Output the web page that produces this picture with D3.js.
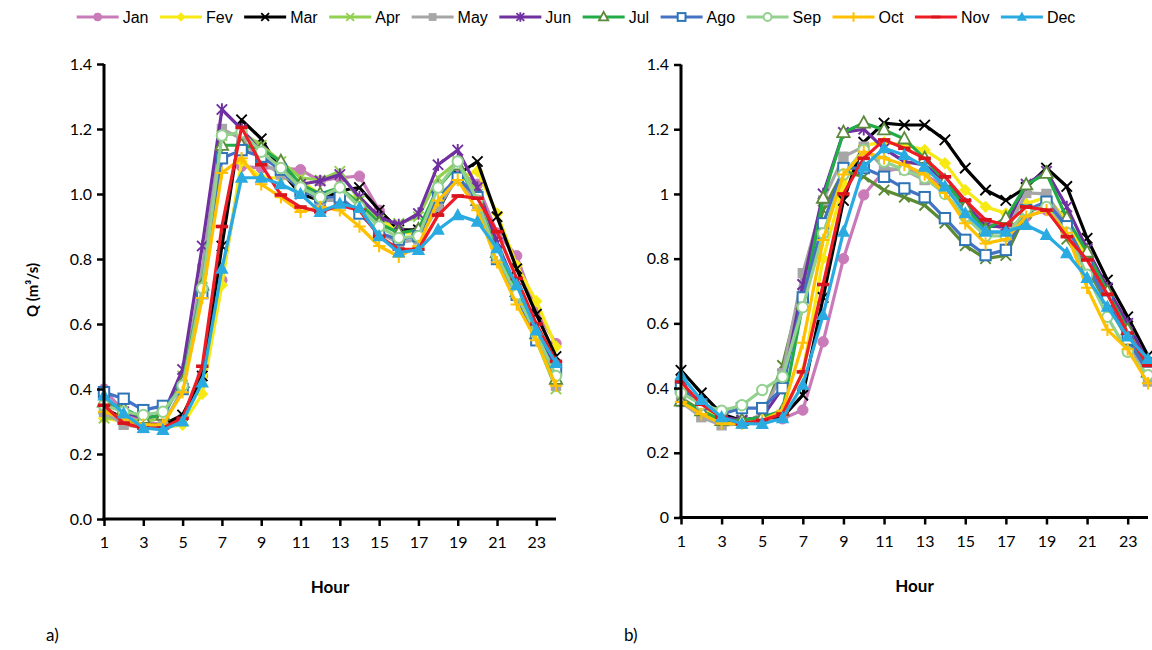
<!DOCTYPE html>
<html><head><meta charset="utf-8">
<script src="https://cdn.jsdelivr.net/npm/d3@7"></script>
<style>body{margin:0;background:#fff}</style></head>
<body><svg id="c" width="1152" height="650"></svg>
<script>
// ---------- DATA ----------
const months = ["Jan","Fev","Mar","Apr","May","Jun","Jul","Ago","Sep","Oct","Nov","Dec"];
const hours = [1,2,3,4,5,6,7,8,9,10,11,12,13,14,15,16,17,18,19,20,21,22,23,24];
const xTickHours = [1,3,5,7,9,11,13,15,17,19,21,23];
const yTicks = [0,0.2,0.4,0.6,0.8,1.0,1.2,1.4];

// chart a)
const aJan = [0.40,0.33,0.30,0.29,0.31,0.44,0.735,1.085,1.08,1.08,1.075,1.04,1.05,1.055,0.95,0.88,0.89,0.96,1.07,1.03,0.88,0.81,0.64,0.54];
const aFev = [0.31,0.30,0.29,0.28,0.29,0.385,0.72,1.10,1.05,1.05,1.04,1.00,1.01,0.98,0.93,0.88,0.88,0.97,1.05,1.07,0.94,0.78,0.67,0.53];
const aMar = [0.34,0.31,0.29,0.29,0.32,0.44,0.84,1.228,1.17,1.07,1.00,0.98,1.01,1.02,0.95,0.89,0.89,0.95,1.06,1.10,0.93,0.77,0.63,0.50];
const aApr = [0.31,0.31,0.30,0.31,0.44,0.74,1.18,1.19,1.15,1.10,1.05,1.043,1.07,0.98,0.92,0.91,0.93,1.05,1.10,1.00,0.82,0.69,0.55,0.40];
const aMay = [0.33,0.29,0.28,0.29,0.40,0.77,1.20,1.17,1.10,1.06,1.02,0.98,0.98,0.95,0.88,0.85,0.86,0.96,1.05,0.97,0.82,0.69,0.56,0.41];
const aJun = [0.37,0.33,0.31,0.32,0.46,0.84,1.26,1.20,1.13,1.08,1.03,1.04,1.06,0.99,0.93,0.905,0.94,1.09,1.135,1.02,0.85,0.71,0.59,0.46];
const aJul = [0.36,0.34,0.31,0.32,0.42,0.72,1.15,1.15,1.14,1.10,1.03,1.00,1.02,0.97,0.91,0.88,0.89,1.02,1.09,0.98,0.82,0.70,0.57,0.43];
const aAgo = [0.39,0.37,0.335,0.348,0.40,0.695,1.11,1.135,1.115,1.075,1.01,0.99,0.99,0.94,0.88,0.86,0.87,0.99,1.05,0.99,0.80,0.69,0.55,0.46];
const aSep = [0.35,0.33,0.32,0.33,0.41,0.71,1.18,1.19,1.13,1.08,1.02,0.99,1.02,0.96,0.90,0.865,0.87,1.02,1.10,0.98,0.81,0.69,0.57,0.44];
const aOct = [0.33,0.31,0.29,0.29,0.39,0.68,1.065,1.11,1.03,0.99,0.945,0.96,0.95,0.90,0.84,0.807,0.84,0.98,1.043,0.95,0.79,0.66,0.55,0.41];
const aNov = [0.35,0.295,0.28,0.28,0.31,0.47,0.90,1.205,1.09,0.997,0.96,0.945,0.965,0.95,0.87,0.83,0.83,0.935,0.994,0.987,0.884,0.74,0.60,0.485];
const aDec = [0.38,0.325,0.28,0.274,0.30,0.42,0.77,1.05,1.05,1.03,1.00,0.945,0.97,0.957,0.87,0.82,0.828,0.89,0.935,0.915,0.833,0.72,0.58,0.48];

// chart b)
const bJan = [0.40,0.36,0.31,0.30,0.30,0.305,0.332,0.543,0.80,0.997,1.07,1.08,1.06,1.02,0.97,0.91,0.89,0.93,0.95,0.90,0.80,0.69,0.58,0.46];
const bFev = [0.40,0.35,0.30,0.29,0.30,0.32,0.45,0.80,1.03,1.15,1.16,1.15,1.136,1.095,1.012,0.96,0.94,0.97,0.99,0.92,0.80,0.69,0.59,0.47];
const bMar = [0.455,0.385,0.32,0.30,0.31,0.31,0.378,0.68,0.98,1.16,1.219,1.213,1.213,1.167,1.08,1.012,0.98,1.02,1.08,1.023,0.863,0.734,0.62,0.50];
const bApr = [0.37,0.33,0.30,0.30,0.31,0.47,0.72,0.95,1.07,1.053,1.012,0.99,0.965,0.91,0.84,0.80,0.81,0.94,0.97,0.86,0.77,0.66,0.55,0.43];
const bMay = [0.357,0.31,0.285,0.29,0.32,0.446,0.755,0.98,1.115,1.146,1.08,1.074,1.043,1.02,0.95,0.88,0.88,1.003,1.00,0.90,0.78,0.67,0.55,0.42];
const bJun = [0.40,0.35,0.31,0.30,0.31,0.40,0.72,1.00,1.19,1.20,1.14,1.10,1.09,1.04,0.97,0.90,0.90,1.03,1.07,0.96,0.83,0.71,0.60,0.48];
const bJul = [0.36,0.33,0.30,0.30,0.31,0.33,0.66,0.987,1.19,1.219,1.198,1.17,1.11,1.04,0.96,0.89,0.925,1.028,1.064,0.925,0.82,0.698,0.58,0.45];
const bAgo = [0.40,0.35,0.32,0.338,0.338,0.40,0.68,0.909,1.08,1.08,1.053,1.017,0.99,0.925,0.858,0.811,0.827,0.95,0.976,0.90,0.78,0.67,0.55,0.45];
const bSep = [0.385,0.35,0.33,0.347,0.394,0.435,0.65,0.878,1.06,1.136,1.10,1.074,1.05,1.00,0.93,0.87,0.87,0.95,0.96,0.88,0.75,0.62,0.512,0.44];
const bOct = [0.357,0.32,0.29,0.29,0.30,0.33,0.54,0.858,1.06,1.13,1.11,1.09,1.06,1.003,0.909,0.847,0.86,0.93,0.95,0.88,0.71,0.58,0.52,0.415];
const bNov = [0.42,0.35,0.31,0.29,0.30,0.32,0.45,0.72,1.00,1.11,1.167,1.141,1.11,1.053,0.98,0.92,0.904,0.96,0.95,0.868,0.796,0.69,0.57,0.47];
const bDec = [0.44,0.363,0.31,0.29,0.289,0.307,0.41,0.626,0.883,1.084,1.141,1.12,1.084,1.023,0.94,0.883,0.883,0.904,0.873,0.817,0.74,0.651,0.559,0.49];

const seriesA = [aJan,aFev,aMar,aApr,aMay,aJun,aJul,aAgo,aSep,aOct,aNov,aDec];
const seriesB = [bJan,bFev,bMar,bApr,bMay,bJun,bJul,bAgo,bSep,bOct,bNov,bDec];

// ---------- STYLES ----------
const style = {
  Jan:{line:"#c97bb9", mk:"circle",   stroke:"#c97bb9", fill:"#c97bb9"},
  Fev:{line:"#f7ea14", mk:"diamond",  stroke:"#f7ea14", fill:"#f7ea14"},
  Mar:{line:"#000000", mk:"x",        stroke:"#000000", fill:"none"},
  Apr:{line:"#92d050", mk:"x",        stroke:"#92d050", fill:"none"},
  May:{line:"#a6a6a6", mk:"square",   stroke:"#a6a6a6", fill:"#a6a6a6"},
  Jun:{line:"#7030a0", mk:"asterisk", stroke:"#7030a0", fill:"none"},
  Jul:{line:"#22ac48", mk:"triangleOpen", stroke:"#5b8a3a", fill:"#ffffff"},
  Ago:{line:"#4472c4", mk:"squareOpen",   stroke:"#2e75b6", fill:"#ffffff"},
  Sep:{line:"#93d18e", mk:"circleOpen",   stroke:"#93d18e", fill:"#ffffff"},
  Oct:{line:"#ffc000", mk:"plus",     stroke:"#ffc000", fill:"none"},
  Nov:{line:"#ee1c25", mk:"dash",     stroke:"#d9141c", fill:"#d9141c"},
  Dec:{line:"#29abe2", mk:"triangle", stroke:"#29abe2", fill:"#29abe2"}
};
const aprColorB = "#5b8a32";

const svg = d3.select("#c");
const FONT_AX = "Lato, 'Liberation Sans', Arial, sans-serif";

function drawMarker(g, type, stroke, fill, k){
  k = k || 1;
  switch(type){
    case "circle": g.append("circle").attr("r",5.2*k).attr("fill",fill).attr("stroke",stroke).attr("stroke-width",1); break;
    case "circleOpen": g.append("circle").attr("r",5.2*k).attr("fill",fill).attr("stroke",stroke).attr("stroke-width",2); break;
    case "diamond": g.append("path").attr("d",`M0,${-6.2*k}L${6.2*k},0L0,${6.2*k}L${-6.2*k},0Z`).attr("fill",fill); break;
    case "square": g.append("rect").attr("x",-5.2*k).attr("y",-5.2*k).attr("width",10.4*k).attr("height",10.4*k).attr("fill",fill); break;
    case "squareOpen": g.append("rect").attr("x",-5.2*k).attr("y",-5.2*k).attr("width",10.4*k).attr("height",10.4*k).attr("fill",fill).attr("stroke",stroke).attr("stroke-width",2); break;
    case "triangle": g.append("path").attr("d",`M0,${-7.2*k}L${6.7*k},${5*k}L${-6.7*k},${5*k}Z`).attr("fill",fill); break;
    case "triangleOpen": g.append("path").attr("d",`M0,${-6.8*k}L${6.2*k},${4.6*k}L${-6.2*k},${4.6*k}Z`).attr("fill",fill).attr("stroke",stroke).attr("stroke-width",1.8); break;
    case "x": g.append("path").attr("d",`M${-5.2*k},${-5.2*k}L${5.2*k},${5.2*k}M${-5.2*k},${5.2*k}L${5.2*k},${-5.2*k}`).attr("stroke",stroke).attr("stroke-width",1.9).attr("fill","none"); break;
    case "asterisk": g.append("path").attr("d",`M${-5.2*k},${-5.2*k}L${5.2*k},${5.2*k}M${-5.2*k},${5.2*k}L${5.2*k},${-5.2*k}M0,${-6.2*k}L0,${6.2*k}`).attr("stroke",stroke).attr("stroke-width",1.9).attr("fill","none"); break;
    case "plus": g.append("path").attr("d",`M${-6.2*k},0L${6.2*k},0M0,${-6.2*k}L0,${6.2*k}`).attr("stroke",stroke).attr("stroke-width",2).attr("fill","none"); break;
    case "dash": g.append("rect").attr("x",-6.2*k).attr("y",-1.8*k).attr("width",12.4*k).attr("height",3.6*k).attr("fill",fill); break;
  }
}

function drawChart(opts){
  const x = d3.scaleLinear().domain([1,24]).range([opts.x0, opts.x1]);
  const y = d3.scaleLinear().domain([0,1.4]).range([opts.y0, opts.y1]);
  const g = svg.append("g");

  const line = d3.line().x((d,i)=>x(hours[i])).y(d=>y(d));
  opts.series.forEach((vals,si)=>{
    const m = months[si];
    const st = style[m];
    const isAprB = opts.aprColor && m==="Apr";
    const lc = isAprB ? opts.aprColor : st.line;
    const mc = isAprB ? opts.aprColor : st.stroke;
    const sg = g.append("g");
    sg.append("path").datum(vals).attr("d",line).attr("fill","none")
      .attr("stroke",lc).attr("stroke-width",3.2).attr("stroke-linejoin","round");
    vals.forEach((v,i)=>{
      const mg = sg.append("g").attr("transform",`translate(${x(hours[i])},${y(v)})`);
      drawMarker(mg, st.mk, mc, st.fill, 1);
    });
  });

  const yAxis = d3.axisLeft(y).tickValues(yTicks).tickSize(7).tickPadding(5).tickFormat(opts.fmt);
  const ya = g.append("g").attr("transform",`translate(${opts.x0},0)`).call(yAxis);
  const xAxis = d3.axisBottom(x).tickValues(xTickHours).tickSize(7).tickPadding(11).tickFormat(d3.format("d"));
  const xa = g.append("g").attr("transform",`translate(0,${opts.y0})`).call(xAxis);
  [ya,xa].forEach(a=>{
    a.select(".domain").attr("stroke","#000").attr("stroke-width",3);
    a.selectAll(".tick line").attr("stroke","#000").attr("stroke-width",2.5);
    a.selectAll(".tick text").attr("fill","#000").style("font-family",FONT_AX).style("font-size","16px");
  });
  ya.select(".domain").attr("d",`M0,${opts.y1}V${opts.y0+1.5}`);
  xa.select(".domain").attr("d",`M${opts.x0-1.5},0H${opts.x1}`);

  g.append("text").attr("x",(opts.x0+opts.x1)/2).attr("y",opts.y0+74)
    .attr("text-anchor","middle").style("font-family",FONT_AX).style("font-weight","bold")
    .style("font-size","17px").text("Hour");
  g.append("text").attr("x",opts.labX).attr("y",641).style("font-family",FONT_AX)
    .style("font-size","17px").text(opts.label);
}

drawChart({series:seriesA, x0:104, x1:556, y0:519, y1:64, fmt:d3.format(".1f"), label:"a)", labX:46});
drawChart({series:seriesB, x0:681, x1:1148, y0:517.5, y1:64.5, fmt:d=>String(+d.toFixed(1)), label:"b)", labX:624, aprColor:aprColorB});

// Y title
svg.append("text").attr("transform","translate(38,290) rotate(-90)").attr("text-anchor","middle")
  .style("font-family",FONT_AX).style("font-weight","bold").style("font-size","15px").text("Q (m³/s)");

// ---------- LEGEND ----------
const lg = svg.append("g");
const LINE_W = 42, TXT_GAP = 4, ENTRY_GAP = 11.5, LY = 17;
const items = months.map(m=>{
  const t = lg.append("text").style("font-family","'Liberation Sans', Arial, sans-serif").style("font-size","16px").attr("fill","#000").text(m);
  return {m, t, w: t.node().getComputedTextLength()};
});
const total = items.reduce((s,it)=>s+LINE_W+TXT_GAP+it.w,0) + ENTRY_GAP*(items.length-1);
let cx = 576 - total/2;
items.forEach(it=>{
  const st = style[it.m];
  lg.append("line").attr("x1",cx).attr("x2",cx+LINE_W).attr("y1",LY).attr("y2",LY)
    .attr("stroke",st.line).attr("stroke-width",3);
  const mg = lg.append("g").attr("transform",`translate(${cx+LINE_W/2},${LY})`);
  drawMarker(mg, st.mk, st.stroke, st.fill, 0.75);
  it.t.attr("x",cx+LINE_W+TXT_GAP).attr("y",LY+6);
  cx += LINE_W+TXT_GAP+it.w+ENTRY_GAP;
});
</script>
</body></html>
